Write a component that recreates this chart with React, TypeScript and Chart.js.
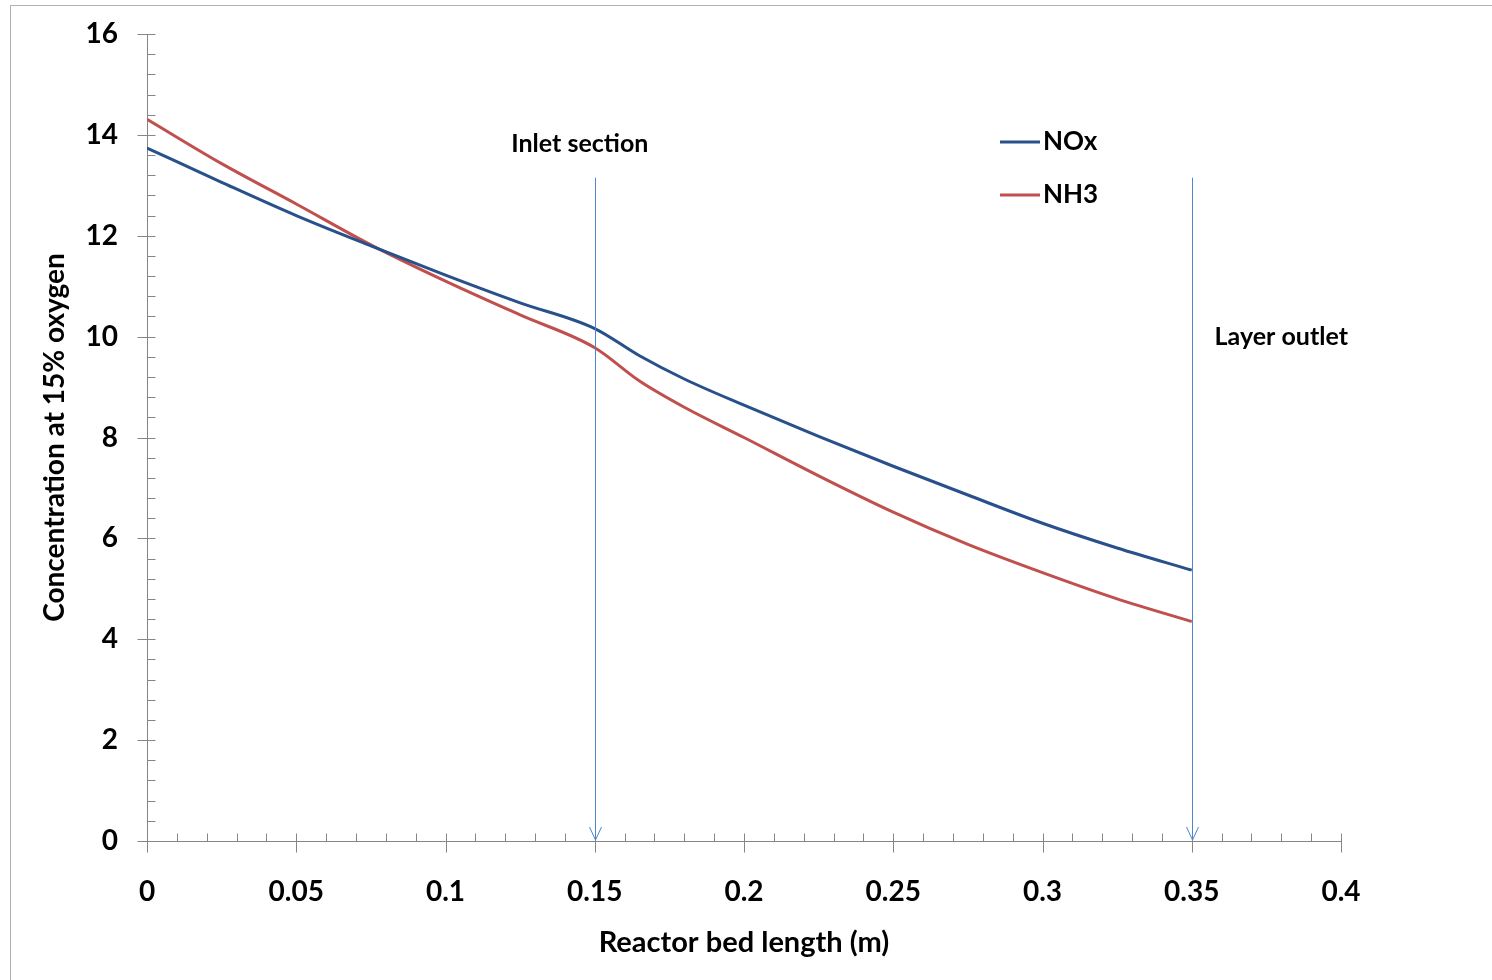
import React, { useEffect, useRef } from "react";
import { Chart, registerables } from "chart.js";

Chart.register(...registerables);

// Reactor bed length (m)
const bedLength = [0, 0.025, 0.05, 0.075, 0.1, 0.125, 0.15, 0.165, 0.18, 0.2, 0.225, 0.25, 0.275, 0.3, 0.325, 0.35];
// Concentration at 15% oxygen
const noxValues = [13.74, 13.06, 12.4, 11.8, 11.22, 10.67, 10.16, 9.62, 9.16, 8.64, 8.02, 7.43, 6.86, 6.3, 5.81, 5.37];
const nh3Values = [14.31, 13.43, 12.63, 11.82, 11.1, 10.43, 9.78, 9.12, 8.6, 8.0, 7.24, 6.52, 5.88, 5.32, 4.8, 4.35];

const seriesNames = ["NOx", "NH3"];
const seriesColors = ["#28508a", "#c0504d"];

const xTickValues = [0, 0.05, 0.1, 0.15, 0.2, 0.25, 0.3, 0.35, 0.4];
const yTickValues = [0, 2, 4, 6, 8, 10, 12, 14, 16];

// Vertical arrow markers
const markerPositions = [0.15, 0.35];
const markerTop = 13.15;
const annotationTexts = ["Inlet section", "Layer outlet"];
const annotationX = [0.145, 0.38];
const annotationY = [13.82, 9.99];

const FONT = "Lato, 'Open Sans', sans-serif";

const overlayPlugin = {
  id: "overlay",
  afterDraw(chart: any) {
    const { ctx, chartArea } = chart;
    const xs = chart.scales.x;
    const ys = chart.scales.y;
    ctx.save();

    // outer frame
    ctx.strokeStyle = "#b0b0b0";
    ctx.lineWidth = 1;
    ctx.strokeRect(10.5, 5.5, chart.width + 20, chart.height + 20);

    // ticks
    ctx.strokeStyle = "#868686";
    ctx.lineWidth = 1;
    const axX = Math.round(chartArea.left) + 0.5;
    const axY = Math.round(chartArea.bottom) + 0.5;
    ctx.beginPath();
    const yMin = yTickValues[0];
    const yMax = yTickValues[yTickValues.length - 1];
    const yMinorStep = (yTickValues[1] - yTickValues[0]) / 5;
    const nY = Math.round((yMax - yMin) / yMinorStep);
    for (let i = 0; i <= nY; i++) {
      const py = Math.round(ys.getPixelForValue(yMin + i * yMinorStep)) + 0.5;
      if (i % 5 === 0) {
        ctx.moveTo(axX - 10, py);
        ctx.lineTo(axX + 8, py);
      } else {
        ctx.moveTo(axX, py);
        ctx.lineTo(axX + 8, py);
      }
    }
    const xMin = xTickValues[0];
    const xMax = xTickValues[xTickValues.length - 1];
    const xMinorStep = (xTickValues[1] - xTickValues[0]) / 5;
    const nX = Math.round((xMax - xMin) / xMinorStep);
    for (let i = 0; i <= nX; i++) {
      const px = Math.round(xs.getPixelForValue(xMin + i * xMinorStep)) + 0.5;
      if (i % 5 === 0) {
        ctx.moveTo(px, axY - 8);
        ctx.lineTo(px, axY + 11);
      } else {
        ctx.moveTo(px, axY - 8);
        ctx.lineTo(px, axY);
      }
    }
    ctx.stroke();

    // arrows
    ctx.strokeStyle = "#4f85cc";
    ctx.lineWidth = 1;
    for (const m of markerPositions) {
      const px = Math.round(xs.getPixelForValue(m)) + 0.5;
      const top = ys.getPixelForValue(markerTop);
      const bottom = ys.getPixelForValue(0) - 1;
      ctx.beginPath();
      ctx.moveTo(px, top);
      ctx.lineTo(px, bottom);
      ctx.moveTo(px - 6, bottom - 13);
      ctx.lineTo(px, bottom);
      ctx.lineTo(px + 6, bottom - 13);
      ctx.stroke();
    }

    // annotation texts
    ctx.fillStyle = "#000";
    ctx.font = `bold 25px ${FONT}`;
    ctx.textAlign = "center";
    ctx.textBaseline = "middle";
    annotationTexts.forEach((t, i) => {
      ctx.fillText(t, xs.getPixelForValue(annotationX[i]), ys.getPixelForValue(annotationY[i]));
    });

    // legend
    const legX = chartArea.left + 853;
    const legY = chartArea.top + 108;
    seriesNames.forEach((name, i) => {
      const ly = legY + i * 53;
      ctx.strokeStyle = seriesColors[i];
      ctx.lineWidth = 3;
      ctx.beginPath();
      ctx.moveTo(legX, ly);
      ctx.lineTo(legX + 40, ly);
      ctx.stroke();
      ctx.fillStyle = "#000";
      ctx.font = `bold 26px ${FONT}`;
      ctx.textAlign = "left";
      ctx.textBaseline = "middle";
      ctx.fillText(name, legX + 43, ly);
    });

    ctx.restore();
  },
};

export default function App() {
  const canvasRef = useRef<HTMLCanvasElement | null>(null);

  useEffect(() => {
    if (!canvasRef.current) return;
    const makeData = (vals: number[]) => bedLength.map((x, i) => ({ x, y: vals[i] }));
    const chart = new Chart(canvasRef.current, {
      type: "line",
      data: {
        datasets: [
          {
            label: seriesNames[0],
            data: makeData(noxValues),
            borderColor: seriesColors[0],
            backgroundColor: seriesColors[0],
            borderWidth: 3,
            pointRadius: 0,
            cubicInterpolationMode: "monotone",
          },
          {
            label: seriesNames[1],
            data: makeData(nh3Values),
            borderColor: seriesColors[1],
            backgroundColor: seriesColors[1],
            borderWidth: 3,
            pointRadius: 0,
            cubicInterpolationMode: "monotone",
          },
        ],
      },
      options: {
        animation: false,
        responsive: true,
        maintainAspectRatio: false,
        layout: { padding: { left: 0, top: 34, right: 151, bottom: 0 } },
        plugins: {
          legend: { display: false },
          tooltip: { enabled: false },
        },
        scales: {
          x: {
            type: "linear",
            min: xTickValues[0],
            max: xTickValues[xTickValues.length - 1],
            afterBuildTicks: (scale: any) => {
              scale.ticks = xTickValues.map((v) => ({ value: v }));
            },
            grid: { display: false, drawTicks: false },
            border: { display: true, color: "#868686", width: 1 },
            ticks: {
              color: "#000",
              font: { family: FONT, size: 28, weight: "bold" },
              padding: 34,
              maxRotation: 0,
              callback: (v: any) => String(Number(Number(v).toFixed(2))),
            },
            title: {
              display: true,
              text: "Reactor bed length (m)",
              color: "#000",
              font: { family: FONT, size: 29, weight: "bold" },
              padding: { top: 0, bottom: 20 },
            },
            afterFit: (scale: any) => {
              scale.height = 139;
              scale.paddingLeft = 0;
              scale.paddingRight = 0;
            },
          },
          y: {
            type: "linear",
            min: yTickValues[0],
            max: yTickValues[yTickValues.length - 1],
            afterBuildTicks: (scale: any) => {
              scale.ticks = yTickValues.map((v) => ({ value: v }));
            },
            grid: { display: false, drawTicks: false },
            border: { display: true, color: "#868686", width: 1 },
            ticks: {
              color: "#000",
              font: { family: FONT, size: 28, weight: "bold" },
              padding: 29,
              callback: (v: any) => String(v),
            },
            title: {
              display: true,
              text: "Concentration at 15% oxygen",
              color: "#000",
              font: { family: FONT, size: 28, weight: "bold" },
              padding: { top: 38, bottom: 0 },
            },
            afterFit: (scale: any) => {
              scale.width = 147;
              scale.paddingTop = 0;
              scale.paddingBottom = 0;
            },
          },
        },
      },
      plugins: [overlayPlugin],
    });
    return () => chart.destroy();
  }, []);

  return (
    <div style={{ position: "absolute", left: 0, top: 0, width: 1492, height: 980, background: "#fff" }}>
      <canvas ref={canvasRef} />
    </div>
  );
}
